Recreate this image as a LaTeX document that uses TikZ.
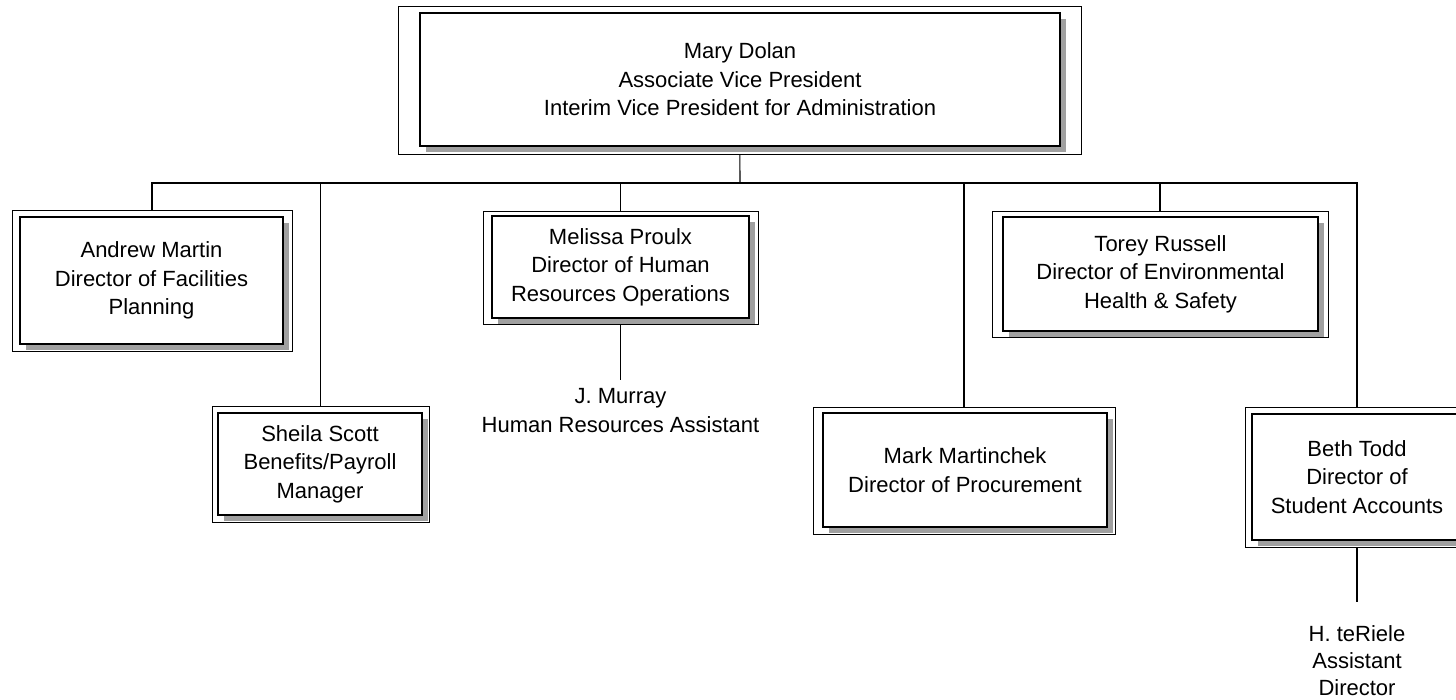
\documentclass[tikz,border=0pt]{standalone}
\usepackage{fontspec}
\setmainfont{Liberation Sans}
\usepackage{tikz}
\usetikzlibrary{
  positioning,
  shadows
}
\definecolor{shadegray}{RGB}{160,160,160}
\tikzstyle{frame}=[draw, line width=0.9pt, rectangle, fill=white, inner sep=0pt]
\tikzstyle{card}=[draw, line width=1.1pt, rectangle, fill=white, inner sep=0pt,
  align=center, font=\fontsize{22}{28.5}\selectfont,
  drop shadow={shadow xshift=6pt, shadow yshift=-6pt, fill=shadegray, opacity=1}]
\tikzstyle{staff}=[inner sep=0pt, outer sep=8pt, align=center, font=\fontsize{22}{28.5}\selectfont]
\tikzstyle{link}=[line width=1.1pt]

\begin{document}
\begin{tikzpicture}[x=1pt, y=-1pt]
    \useasboundingbox (0,0) rectangle (1456,699);

    % 副学長
    \node[frame, minimum width=683pt, minimum height=148pt] (mary) at (739.5,80) {};
    \node[card, minimum width=640pt, minimum height=133pt] (mary-card) at (740,79.5)
      {Mary Dolan\\Associate Vice President\\Interim Vice President for Administration};

    % 上段の部長
    \node[frame, minimum width=280pt, minimum height=141pt] (andrew) at (152,280.5) {};
    \node[card, minimum width=263pt, minimum height=127pt] (andrew-card) at (151.5,280.5)
      {Andrew Martin\\Director of Facilities\\Planning};

    \node[frame, minimum width=275pt, minimum height=113pt] (melissa) at (620.5,267.5) {};
    \node[card, minimum width=257pt, minimum height=102pt] (melissa-card) at (620.5,267)
      {Melissa Proulx\\Director of Human\\Resources Operations};

    \node[frame, minimum width=336pt, minimum height=126pt] (torey) at (1160,274) {};
    \node[card, minimum width=315pt, minimum height=114pt] (torey-card) at (1160.5,274)
      {Torey Russell\\Director of Environmental\\Health \& Safety};

    % 下段の部長
    \node[frame, minimum width=217pt, minimum height=116pt] (sheila) at (320.5,464) {};
    \node[card, minimum width=204pt, minimum height=102pt] (sheila-card) at (320,464)
      {Sheila Scott\\Benefits/Payroll\\Manager};

    \node[frame, minimum width=302pt, minimum height=127pt] (mark) at (964,470.5) {};
    \node[card, minimum width=284pt, minimum height=114pt] (mark-card) at (965,470)
      {Mark Martinchek\\Director of Procurement};

    \node[frame, minimum width=224pt, minimum height=140pt] (beth) at (1357,477) {};
    \node[card, minimum width=210pt, minimum height=126pt] (beth-card) at (1357,477)
      {Beth Todd\\Director of\\Student Accounts};

    % スタッフ
    \node[staff, below=56pt of melissa] (murray) {J. Murray\\Human Resources Assistant};
    \node[staff, outer sep=23pt, font=\fontsize{22}{27}\selectfont, below=55pt of beth] (teriele)
      {H. teRiele\\Assistant\\Director};

    % 接続線
    \coordinate (bus) at (740,183);
    \draw[link] (mary) -- (bus);
    \draw[link] (andrew.north) |- (bus);
    \draw[link] (sheila.north) |- (bus);
    \draw[link] (melissa.north) |- (bus);
    \draw[link] (mark.north) |- (bus);
    \draw[link] (torey.north) |- (bus);
    \draw[link] (beth.north) |- (bus);
    \draw[link] (melissa) -- (murray);
    \draw[link] (beth) -- (teriele);
\end{tikzpicture}
\end{document}
